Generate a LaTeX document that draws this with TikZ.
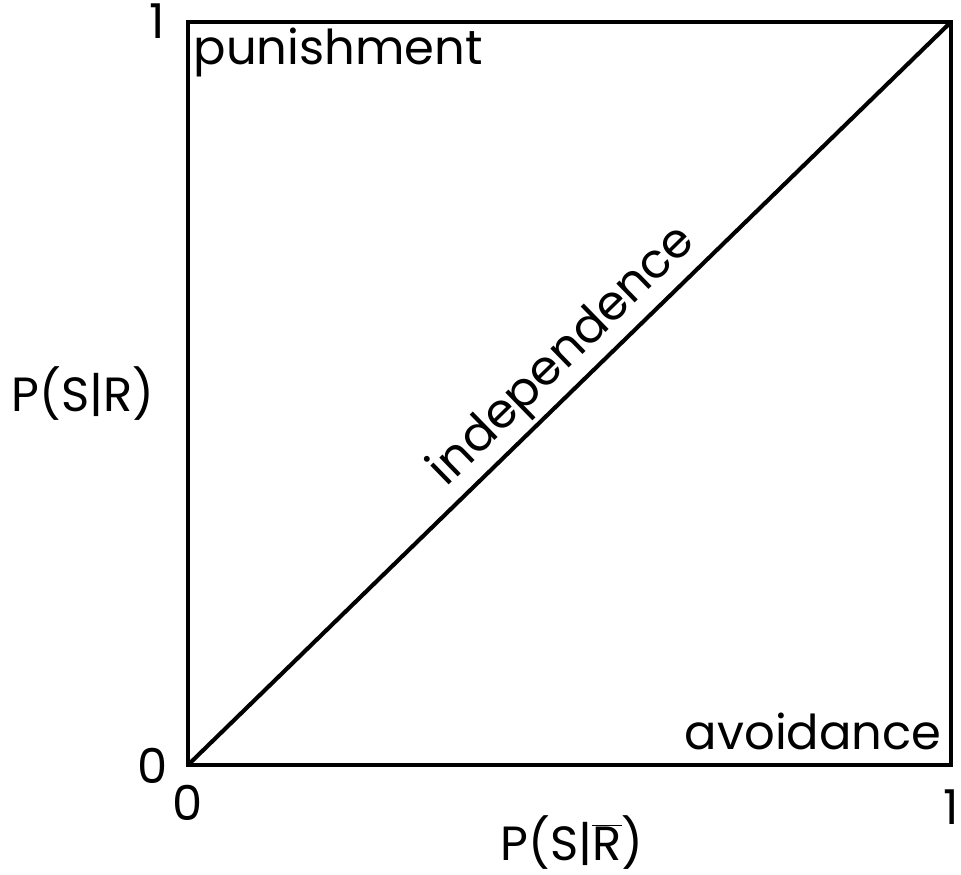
\documentclass[tikz,border=0pt]{standalone}
\usepackage{fontspec}
\setmainfont{Poppins}
\tikzset{lbl/.style={font=\fontsize{41}{48}\selectfont,inner sep=0pt}}
\begin{document}
\begin{tikzpicture}[x=1cm,y=1cm]
\useasboundingbox (0,0) rectangle (28.83,26.25);
\coordinate (o) at (5.64,3.30);
\coordinate (tr) at (28.53,25.59);
\draw[line width=4pt] (o) rectangle (tr);
\draw[line width=3.5pt] (o) -- (tr)
  node[lbl,pos=0.52,sloped,above,inner sep=0.12cm] (indep) {independence};
\node[lbl] (yone) at (4.71,25.62) {1};
\node[lbl,anchor=base west] (pun) at (5.8,24.3) {punishment};
\node[lbl] (ylab) at (2.49,14.43) {P(S|R)};
\node[lbl,anchor=base east] (avo) at (28.25,3.75) {avoidance};
\node[lbl] (yzero) at (4.59,3.27) {0};
\node[lbl] (xzero) at (5.64,2.16) {0};
\node[lbl] (xone) at (28.53,2.04) {1};
\node[lbl] (xlab) at (17.16,0.98) {P(S|$\overline{\hbox{R}}$)};
\end{tikzpicture}
\end{document}
